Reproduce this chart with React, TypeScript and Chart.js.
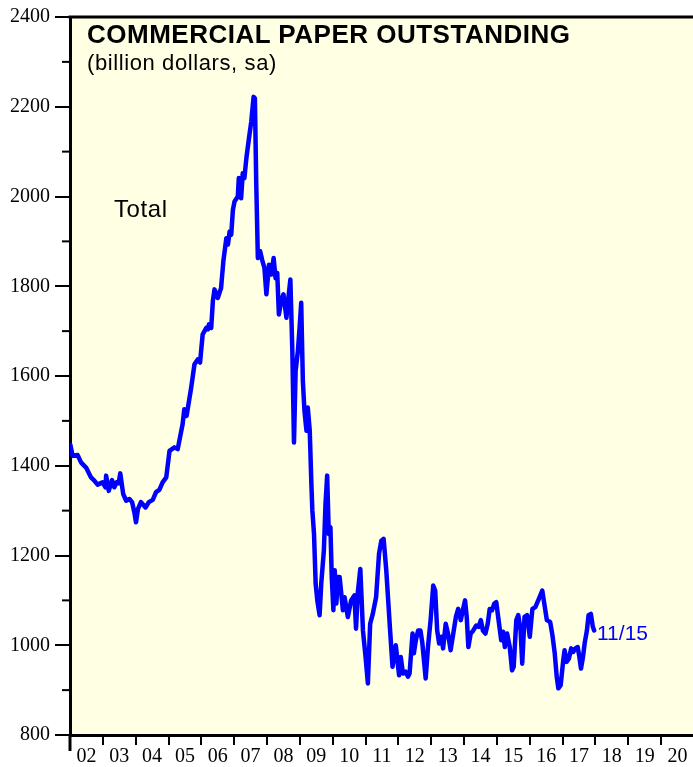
import React, { useEffect, useRef } from "react";
import { Chart, registerables } from "chart.js";

Chart.register(...registerables);

// decimal year of each observation
const years = [
  2002.01, 2002.08, 2002.23, 2002.34, 2002.49, 2002.64, 2002.74, 2002.84, 2002.99, 2003.08,
  2003.10, 2003.18, 2003.28, 2003.35, 2003.42, 2003.48, 2003.53, 2003.62, 2003.71, 2003.81,
  2003.89, 2003.96, 2004.01, 2004.07, 2004.16, 2004.23, 2004.30, 2004.40, 2004.52, 2004.62,
  2004.72, 2004.82, 2004.93, 2005.03, 2005.18, 2005.28, 2005.33, 2005.43, 2005.48, 2005.55,
  2005.69, 2005.79, 2005.89, 2005.96, 2006.04, 2006.15, 2006.20, 2006.23, 2006.30, 2006.35,
  2006.40, 2006.50, 2006.60, 2006.67, 2006.76, 2006.81, 2006.86, 2006.91, 2006.96, 2007.01,
  2007.11, 2007.14, 2007.21, 2007.26, 2007.31, 2007.37, 2007.45, 2007.52, 2007.59, 2007.63,
  2007.67, 2007.72, 2007.79, 2007.85, 2007.92, 2007.98, 2008.06, 2008.13, 2008.20, 2008.26,
  2008.31, 2008.36, 2008.43, 2008.50, 2008.59, 2008.64, 2008.71, 2008.77, 2008.82, 2008.87,
  2008.94, 2008.99, 2009.04, 2009.09, 2009.14, 2009.20, 2009.24, 2009.30, 2009.35, 2009.38,
  2009.43, 2009.48, 2009.53, 2009.60, 2009.65, 2009.73, 2009.78, 2009.83, 2009.88, 2009.93,
  2009.97, 2010.02, 2010.06, 2010.11, 2010.16, 2010.21, 2010.31, 2010.36, 2010.46, 2010.56,
  2010.66, 2010.71, 2010.76, 2010.84, 2010.92, 2011.00, 2011.07, 2011.14, 2011.22, 2011.32,
  2011.41, 2011.48, 2011.55, 2011.63, 2011.74, 2011.82, 2011.92, 2012.02, 2012.07, 2012.14,
  2012.22, 2012.29, 2012.34, 2012.43, 2012.47, 2012.53, 2012.60, 2012.67, 2012.73, 2012.83,
  2012.90, 2012.98, 2013.06, 2013.12, 2013.18, 2013.24, 2013.31, 2013.36, 2013.44, 2013.51,
  2013.59, 2013.67, 2013.75, 2013.82, 2013.90, 2013.96, 2014.03, 2014.08, 2014.13, 2014.20,
  2014.28, 2014.37, 2014.44, 2014.51, 2014.57, 2014.65, 2014.72, 2014.78, 2014.85, 2014.92,
  2014.98, 2015.05, 2015.13, 2015.19, 2015.24, 2015.31, 2015.39, 2015.46, 2015.51, 2015.59,
  2015.65, 2015.72, 2015.77, 2015.84, 2015.92, 2016.00, 2016.08, 2016.17, 2016.28, 2016.38,
  2016.52, 2016.62, 2016.69, 2016.76, 2016.82, 2016.87, 2016.94, 2017.02, 2017.06, 2017.12,
  2017.19, 2017.26, 2017.32, 2017.39, 2017.46, 2017.51, 2017.56, 2017.62, 2017.67, 2017.74,
  2017.79, 2017.86, 2017.92, 2017.96,
];

// commercial paper outstanding, billion dollars, sa
const totalCP = [
  1447, 1422, 1424, 1407, 1396, 1374, 1367, 1358, 1363, 1352,
  1378, 1344, 1368, 1352, 1363, 1361, 1383, 1337, 1322, 1326,
  1319, 1296, 1274, 1304, 1319, 1313, 1307, 1319, 1324, 1341,
  1346, 1363, 1374, 1433, 1441, 1437, 1456, 1493, 1526, 1511,
  1574, 1626, 1637, 1630, 1693, 1707, 1704, 1715, 1707, 1767,
  1793, 1774, 1796, 1856, 1907, 1893, 1922, 1915, 1970, 1989,
  2000, 2041, 1996, 2052, 2041, 2085, 2130, 2167, 2222, 2219,
  2033, 1863, 1878, 1859, 1841, 1782, 1848, 1826, 1863, 1818,
  1830, 1737, 1767, 1782, 1730, 1767, 1815, 1656, 1452, 1611,
  1656, 1707, 1763, 1589, 1522, 1478, 1530, 1478, 1359, 1300,
  1248, 1137, 1100, 1067, 1137, 1211, 1315, 1378, 1248, 1263,
  1152, 1078, 1167, 1093, 1152, 1152, 1078, 1107, 1063, 1100,
  1111, 1037, 1115, 1170, 1033, 974, 915, 1048, 1070, 1107,
  1204, 1233, 1237, 1167, 1041, 952, 1000, 933, 974, 937,
  941, 930, 937, 1026, 982, 1011, 1033, 1033, 1004, 926,
  996, 1056, 1133, 1122, 1033, 1004, 1019, 993, 1048, 1026,
  989, 1026, 1063, 1081, 1056, 1078, 1100, 1063, 996, 1026,
  1033, 1044, 1041, 1056, 1033, 1026, 1048, 1081, 1078, 1093,
  1096, 1056, 1011, 1030, 996, 1026, 996, 944, 952, 1056,
  1067, 1033, 959, 1063, 1067, 1019, 1081, 1085, 1104, 1122,
  1056, 1052, 1022, 982, 930, 904, 911, 967, 989, 963,
  970, 993, 985, 993, 996, 974, 948, 974, 1004, 1033,
  1067, 1070, 1041, 1033,
];

const yMin = 800;
const yMax = 2400;
const yStep = 200;
const yMinorStep = 100;
const xMin = 2002;
const xMax = 2020.97;

const BG = "#ffffe3";

const framePlugin = {
  id: "frame",
  beforeDraw(chart: any) {
    const { ctx, chartArea } = chart;
    ctx.save();
    ctx.fillStyle = BG;
    ctx.fillRect(chartArea.left, chartArea.top, chartArea.right - chartArea.left, chartArea.bottom - chartArea.top);
    ctx.restore();
  },
  afterDraw(chart: any) {
    const { ctx, chartArea } = chart;
    const ys = chart.scales.y;
    ctx.save();
    ctx.strokeStyle = "#000";
    ctx.lineWidth = 3;
    ctx.beginPath();
    ctx.moveTo(chartArea.left - 1.5, chartArea.top);
    ctx.lineTo(chartArea.right, chartArea.top);
    ctx.stroke();
    ctx.lineWidth = 2;
    for (let v = yMin + yMinorStep; v < yMax; v += yStep) {
      const py = ys.getPixelForValue(v);
      ctx.beginPath();
      ctx.moveTo(chartArea.left - 8, py);
      ctx.lineTo(chartArea.left, py);
      ctx.stroke();
    }
    ctx.lineWidth = 3;
    ctx.beginPath();
    ctx.moveTo(chartArea.left, chartArea.bottom);
    ctx.lineTo(chartArea.left, chartArea.bottom + 16);
    ctx.stroke();
    ctx.restore();
  },
};

export default function App() {
  const ref = useRef<HTMLCanvasElement | null>(null);

  useEffect(() => {
    if (!ref.current) return;
    const chart = new Chart(ref.current, {
      type: "line",
      data: {
        datasets: [
          {
            label: "Total",
            data: years.map((x, i) => ({ x, y: totalCP[i] })),
            borderColor: "#0000ff",
            borderWidth: 4.5,
            pointRadius: 0,
            tension: 0,
            borderJoinStyle: "round",
            borderCapStyle: "round",
          },
        ],
      },
      options: {
        animation: false,
        responsive: false,
        layout: { padding: { top: 15, right: 0, left: 0, bottom: 0 } },
        plugins: { legend: { display: false }, tooltip: { enabled: false } },
        scales: {
          x: {
            type: "linear",
            min: xMin,
            max: xMax,
            afterFit: (s: any) => {
              s.height = 32;
            },
            border: { display: true, color: "#000", width: 3 },
            grid: { drawOnChartArea: false, drawTicks: true, tickLength: 10, color: "#000", lineWidth: 2 },
            ticks: {
              stepSize: 1,
              autoSkip: false,
              includeBounds: false,
              maxRotation: 0,
              labelOffset: 16.4,
              padding: 0,
              color: "#000",
              font: { family: "'Liberation Serif', serif", size: 20 },
              callback: (v: any) => (Number.isInteger(v) ? String(v % 100).padStart(2, "0") : ""),
            },
          },
          y: {
            min: yMin,
            max: yMax,
            afterFit: (s: any) => {
              s.width = 70;
            },
            border: { display: true, color: "#000", width: 3 },
            grid: { drawOnChartArea: false, drawTicks: true, tickLength: 15, color: "#000", lineWidth: 2 },
            ticks: {
              stepSize: yStep,
              padding: 5,
              color: "#000",
              font: { family: "'Liberation Serif', serif", size: 20 },
              callback: (v: any) => String(v),
            },
          },
        },
      },
      plugins: [framePlugin],
    } as any);
    return () => chart.destroy();
  }, []);

  const sans = "'Liberation Sans', Arial, Helvetica, sans-serif";
  return (
    <div style={{ position: "absolute", left: 0, top: 0, width: 693, height: 767, overflow: "hidden", background: "#fff" }}>
      <canvas ref={ref} width={693} height={767} style={{ width: 693, height: 767, display: "block" }} />
      <div style={{ position: "absolute", left: 87, top: 21, fontFamily: sans, fontWeight: "bold", fontSize: 26, lineHeight: "26px", letterSpacing: 0.5, color: "#000", whiteSpace: "nowrap" }}>
        COMMERCIAL PAPER OUTSTANDING
      </div>
      <div style={{ position: "absolute", left: 87, top: 52, fontFamily: sans, fontSize: 22, lineHeight: "22px", letterSpacing: 0.6, color: "#000", whiteSpace: "nowrap" }}>
        (billion dollars, sa)
      </div>
      <div style={{ position: "absolute", left: 114, top: 197, fontFamily: sans, fontSize: 24, lineHeight: "24px", letterSpacing: 0.6, color: "#000", whiteSpace: "nowrap" }}>
        Total
      </div>
      <div style={{ position: "absolute", left: 597, top: 622, fontFamily: sans, fontSize: 21, lineHeight: "21px", color: "#0000ff", whiteSpace: "nowrap" }}>
        11/15
      </div>
    </div>
  );
}
